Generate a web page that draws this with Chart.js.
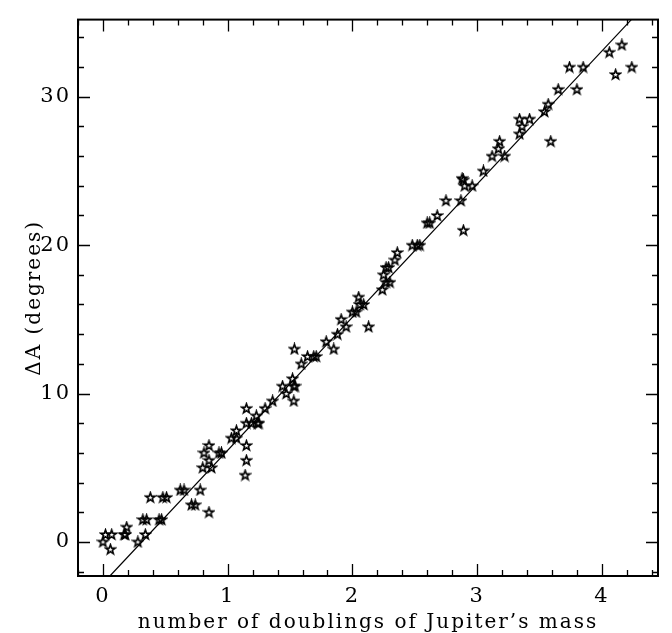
<!DOCTYPE html>
<html>
<head>
<meta charset="utf-8">
<title>Delta A vs doublings of Jupiter's mass</title>
<script src="https://cdn.jsdelivr.net/npm/chart.js@4.4.1/dist/chart.umd.min.js"></script>
<style>
    html, body { margin: 0; padding: 0; background: #fff; }
    #wrap { width: 672px; height: 633px; }
</style>
</head>
<body>
<div id="wrap"><canvas id="massChart" width="672" height="633"></canvas></div>
<script>
// measured points (x = number of doublings, y = delta A in degrees)
const massDoublings = [
    0.00, 0.02, 0.07, 0.06, 0.17, 0.18, 0.19, 0.28, 0.34, 0.32,
    0.35, 0.38, 0.45, 0.47, 0.48, 0.51, 0.62, 0.65, 0.71, 0.74,
    0.78, 0.85, 0.80, 0.87, 0.81, 0.85, 0.85, 0.93, 0.95, 1.03,
    1.07, 1.07, 1.15, 1.15, 1.15, 1.14, 1.15, 1.19, 1.24, 1.25,
    1.23, 1.30, 1.36, 1.44, 1.47, 1.52, 1.53, 1.54, 1.53, 1.535,
    1.59, 1.64, 1.69, 1.71, 1.79, 1.85, 1.88, 1.91, 1.95, 2.00,
    2.03, 2.05, 2.06, 2.09, 2.13, 2.24, 2.27, 2.30, 2.25, 2.27,
    2.29, 2.34, 2.36, 2.48, 2.52, 2.54, 2.60, 2.62, 2.68, 2.89,
    2.75, 2.87, 2.88, 2.89, 2.90, 2.96, 3.05, 3.12, 3.22, 3.17,
    3.18, 3.34, 3.36, 3.34, 3.42, 3.54, 3.57, 3.59, 3.65, 3.80,
    3.74, 3.85, 4.06, 4.16, 4.11, 4.24
];
const deltaA = [
    0.0, 0.5, 0.5, -0.5, 0.5, 0.5, 1.0, 0.0, 0.5, 1.5,
    1.5, 3.0, 1.5, 1.5, 3.0, 3.0, 3.5, 3.5, 2.5, 2.5,
    3.5, 2.0, 5.0, 5.0, 6.0, 5.5, 6.5, 6.0, 6.0, 7.0,
    7.0, 7.5, 9.0, 6.5, 5.5, 4.5, 8.0, 8.0, 8.0, 8.0,
    8.5, 9.0, 9.5, 10.5, 10.0, 11.0, 10.5, 10.5, 9.5, 13.0,
    12.0, 12.5, 12.5, 12.5, 13.5, 13.0, 14.0, 15.0, 14.5, 15.5,
    15.5, 16.5, 16.0, 16.0, 14.5, 17.0, 17.5, 17.5, 18.0, 18.5,
    18.5, 19.0, 19.5, 20.0, 20.0, 20.0, 21.5, 21.5, 22.0, 21.0,
    23.0, 23.0, 24.5, 24.4, 24.0, 24.0, 25.0, 26.0, 26.0, 26.5,
    27.0, 27.5, 28.0, 28.5, 28.5, 29.0, 29.5, 27.0, 30.5, 30.5,
    32.0, 32.0, 33.0, 33.5, 31.5, 32.0
];

// fitted straight line, end points
const fitX = [0.056, 4.236];
const fitY = [-2.3, 35.2];

// axis ranges and tick spacing
const xRange = [-0.2, 4.45];
const yRange = [-2.3, 35.2];
const xStep = 0.2, xMajor = 1;
const yStep = 2, yMajor = 10;

const xTitle = 'number of doublings of Jupiter\u2019s mass';
const yTitle = '\u0394A (degrees)';

const FONT = 'DejaVu Serif';

document.addEventListener('DOMContentLoaded', function() {
    initChart();
});

// open five-pointed star used as marker
function makeStar() {
    const c = document.createElement('canvas');
    c.width = 13;
    c.height = 13;
    const g = c.getContext('2d');
    g.strokeStyle = '#000';
    g.lineWidth = 1.6;
    g.lineJoin = 'miter';
    g.beginPath();
    for (let i = 0; i < 10; i++) {
        const r = i % 2 === 0 ? 5.0 : 2.0;
        const a = -Math.PI / 2 + i * Math.PI / 5;
        const px = 6.5 + r * Math.cos(a);
        const py = 6.8 + r * Math.sin(a);
        if (i === 0) g.moveTo(px, py); else g.lineTo(px, py);
    }
    g.closePath();
    g.stroke();
    return c;
}

function isMultiple(v, step) {
    const q = v / step;
    return Math.abs(q - Math.round(q)) < 1e-6;
}

// frame + inward ticks on all four sides
const frameTicks = {
    id: 'frameTicks',
    beforeDraw(chart) {
        chart.ctx.letterSpacing = '2px';
    },
    afterDatasetsDraw(chart) {
        const ctx = chart.ctx;
        const a = chart.chartArea;
        const xs = chart.scales.x, ys = chart.scales.y;
        ctx.save();
        ctx.strokeStyle = '#000';
        ctx.lineWidth = 1.3;
        ctx.beginPath();
        xs.ticks.forEach(function(t) {
            if (t.value < xs.min || t.value > xs.max) return;
            const px = Math.round(xs.getPixelForValue(t.value)) + 0.5;
            const len = isMultiple(t.value, xMajor) ? 12 : 6;
            ctx.moveTo(px, a.bottom);
            ctx.lineTo(px, a.bottom - len);
            ctx.moveTo(px, a.top);
            ctx.lineTo(px, a.top + len);
        });
        ys.ticks.forEach(function(t) {
            if (t.value < ys.min || t.value > ys.max) return;
            const py = Math.round(ys.getPixelForValue(t.value)) + 0.5;
            const len = isMultiple(t.value, yMajor) ? 12 : 6;
            ctx.moveTo(a.left, py);
            ctx.lineTo(a.left + len, py);
            ctx.moveTo(a.right, py);
            ctx.lineTo(a.right - len, py);
        });
        ctx.stroke();
        ctx.lineWidth = 2;
        ctx.strokeRect(a.left, a.top, a.right - a.left, a.bottom - a.top);
        ctx.restore();
    }
};

function initChart() {
    const ctx = document.getElementById('massChart').getContext('2d');
    const points = massDoublings.map(function(x, i) {
        return { x: x, y: deltaA[i] };
    });
    const fitLine = fitX.map(function(x, i) {
        return { x: x, y: fitY[i] };
    });

    window.massChart = new Chart(ctx, {
        type: 'scatter',
        data: {
            datasets: [
                {
                    data: points,
                    pointStyle: makeStar(),
                    pointRadius: 5,
                    borderColor: '#000',
                    backgroundColor: '#000'
                },
                {
                    type: 'line',
                    data: fitLine,
                    borderColor: '#000',
                    borderWidth: 1.2,
                    pointRadius: 0,
                    fill: false,
                    tension: 0
                }
            ]
        },
        options: {
            responsive: false,
            animation: false,
            devicePixelRatio: 1,
            layout: {
                padding: { top: 6, right: 14, left: 0, bottom: 0 }
            },
            plugins: {
                legend: { display: false },
                tooltip: { enabled: false }
            },
            scales: {
                x: {
                    type: 'linear',
                    min: xRange[0],
                    max: xRange[1],
                    grid: { display: false, drawTicks: false },
                    border: { display: false },
                    afterFit: function(scale) { scale.height = 57; },
                    ticks: {
                        stepSize: xStep,
                        includeBounds: false,
                        autoSkip: false,
                        maxRotation: 0,
                        padding: 8,
                        color: '#000',
                        font: { family: FONT, size: 21 },
                        callback: function(v) {
                            return isMultiple(v, xMajor) ? String(Math.round(v)) : '';
                        }
                    },
                    title: {
                        display: true,
                        text: xTitle,
                        color: '#000',
                        font: { family: FONT, size: 20, lineHeight: 1 },
                        padding: { top: 0, bottom: 0 }
                    }
                },
                y: {
                    type: 'linear',
                    min: yRange[0],
                    max: yRange[1],
                    grid: { display: false, drawTicks: false },
                    border: { display: false },
                    afterFit: function(scale) { scale.width = 78; },
                    ticks: {
                        stepSize: yStep,
                        includeBounds: false,
                        autoSkip: false,
                        padding: 7,
                        color: '#000',
                        font: { family: FONT, size: 21 },
                        callback: function(v) {
                            return isMultiple(v, yMajor) ? String(Math.round(v)) : '';
                        }
                    },
                    title: {
                        display: true,
                        text: yTitle,
                        color: '#000',
                        font: { family: FONT, size: 20, lineHeight: 1 },
                        padding: { top: 25, bottom: 0 }
                    }
                }
            }
        },
        plugins: [frameTicks]
    });
}
</script>
</body>
</html>
